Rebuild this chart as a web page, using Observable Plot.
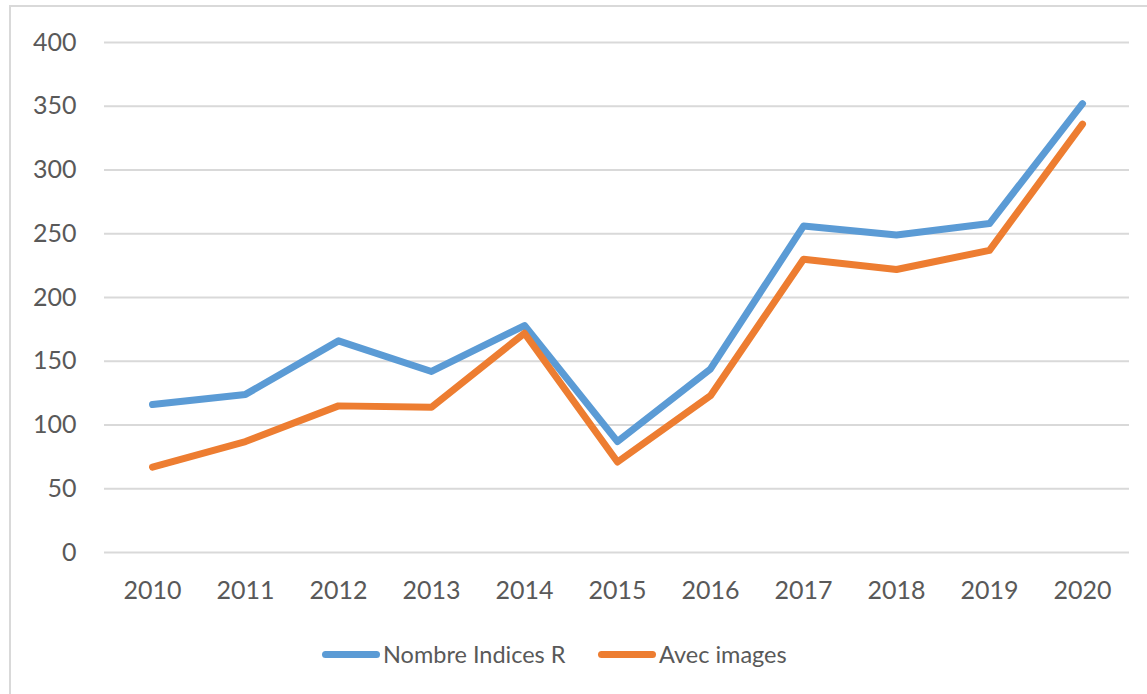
<!DOCTYPE html>
<html>
<head>
<meta charset="utf-8">
<script src="https://cdn.jsdelivr.net/npm/d3@7"></script>
<script src="https://cdn.jsdelivr.net/npm/@observablehq/plot@0.6"></script>
<style>
  html, body { margin: 0; padding: 0; background: #fff; }
  body { width: 1147px; height: 694px; overflow: hidden; position: relative; font-family: Lato, "Open Sans", sans-serif; }
  #frame { position: absolute; left: 9px; top: 5px; width: 1160px; height: 720px; border: 2px solid #d9d9d9; box-sizing: border-box; }
  #chart { position: absolute; left: 0; top: 0; }
  #legend { position: absolute; left: 0; top: 636px; width: 1147px; height: 36px; }
  .item { position: absolute; top: 0; display: flex; align-items: center; height: 36px; font-size: 23.5px; color: #595959; }
  .sw { width: 58px; height: 7px; border-radius: 4px; margin-right: 3px; }
</style>
</head>
<body>
<div id="frame"></div>
<div id="chart"></div>
<div id="legend">
  <div class="item" style="left:322px"><div class="sw" style="background:#5B9BD5"></div><span id="l1"></span></div>
  <div class="item" style="left:598px"><div class="sw" style="background:#ED7D31"></div><span id="l2"></span></div>
</div>
<script>
const years = ["2010","2011","2012","2013","2014","2015","2016","2017","2018","2019","2020"];
const seriesNames = ["Nombre Indices R", "Avec images"];
const nombreIndicesR = [116, 124, 166, 142, 178, 87, 144, 256, 249, 258, 352];
const avecImages = [67, 87, 115, 114, 172, 71, 123, 230, 222, 237, 336];
const yTicks = [0, 50, 100, 150, 200, 250, 300, 350, 400];
const colors = ["#5B9BD5", "#ED7D31"];

const data = [];
years.forEach((y, i) => {
  data.push({year: y, value: nombreIndicesR[i], series: seriesNames[0]});
  data.push({year: y, value: avecImages[i], series: seriesNames[1]});
});

document.getElementById("l1").textContent = seriesNames[0];
document.getElementById("l2").textContent = seriesNames[1];

const chart = Plot.plot({
  width: 1147,
  height: 620,
  marginLeft: 104,
  marginRight: 18,
  marginTop: 42,
  marginBottom: 68,
  style: { fontFamily: "Lato, 'Open Sans', sans-serif", fontSize: "25px", color: "#595959", background: "transparent", overflow: "visible" },
  x: { type: "point", domain: years, padding: 0.5, label: null },
  y: { domain: [0, 400], ticks: yTicks, label: null },
  color: { domain: seriesNames, range: colors },
  marks: [
    Plot.ruleY(yTicks, { stroke: "#d9d9d9", strokeWidth: 2 }),
    Plot.axisY({ ticks: yTicks, tickSize: 0, tickPadding: 28, label: null, fill: "#595959" }),
    Plot.axisX({ tickSize: 0, tickPadding: 29, label: null, fill: "#595959" }),
    Plot.line(data, { x: "year", y: "value", z: "series", stroke: "series", strokeWidth: 7, strokeLinejoin: "round", strokeLinecap: "round" })
  ]
});
document.getElementById("chart").appendChild(chart);
</script>
</body>
</html>
